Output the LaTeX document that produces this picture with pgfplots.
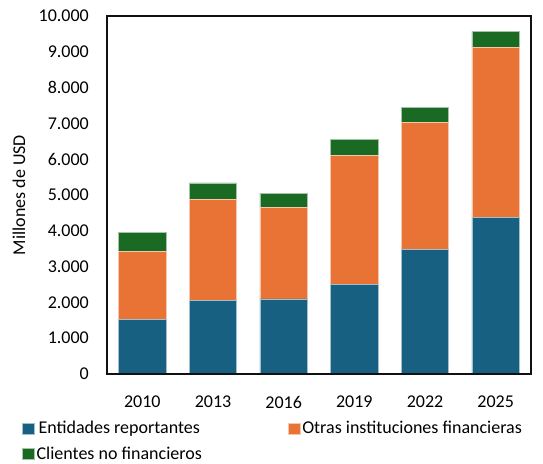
\documentclass[border=0pt]{standalone}
\usepackage{pgfplots}
\pgfplotsset{compat=1.18}
\usepackage{fontspec}
\setmainfont{Carlito}
\definecolor{cblue}{HTML}{186082}
\definecolor{corange}{HTML}{E97334}
\definecolor{cgreen}{HTML}{1B6A24}
\definecolor{cframe}{HTML}{111111}
\begin{document}
\begin{tikzpicture}[font=\fontsize{18}{21}\selectfont]
\begin{axis}[
  name=main,
  scale only axis,
  width=424pt, height=358pt,
  ybar stacked,
  bar width=0.67,
  xmin=-0.5, xmax=5.5,
  ymin=0, ymax=10000,
  xtick={0,1,2,3,4,5},
  xticklabels={2010,2013,2016,2019,2022,2025},
  ytick={0,1000,...,10000},
  scaled y ticks=false,
  yticklabel={\pgfmathprintnumber[fixed,1000 sep={.},assume math mode=true]{\tick}},
  xtick style={draw=none}, ytick style={draw=none},
  axis line style={draw=cframe, line width=1.5pt},
  yticklabel style={inner sep=0pt, xshift=-18pt},
  xticklabel style={inner sep=0pt, yshift=-22pt},
  every axis y label/.style={at={(rel axis cs:0,0.5)}, xshift=-88pt, rotate=90, anchor=center},
  ylabel={Millones de USD},
  legend columns=2,
  legend style={draw=none, fill=none, at={(rel axis cs:0,0)}, anchor=north west,
    xshift=-88pt, yshift=-44pt,
    nodes={inner xsep=2pt, inner ysep=1pt},
    /tikz/every even column/.append style={column sep=84pt},
    row sep=10pt},
  legend image code/.code={\fill[#1] (0pt,-5.5pt) rectangle (12pt,5.5pt);},
]
\addplot[fill=cblue, draw=white!60!cblue, line width=0.4pt] coordinates {(0,1530) (1,2050) (2,2100) (3,2500) (4,3480) (5,4370)};
\addplot[fill=corange, draw=white!60!corange, line width=0.4pt] coordinates {(0,1900) (1,2830) (2,2560) (3,3610) (4,3550) (5,4760)};
\addplot[fill=cgreen, draw=white!60!cgreen, line width=0.4pt] coordinates {(0,530) (1,460) (2,390) (3,450) (4,420) (5,440)};
\legend{Entidades reportantes, Otras instituciones financieras, Clientes no financieros}
\end{axis}
\begin{axis}[
  scale only axis,
  width=424pt, height=358pt,
  xmin=-0.5, xmax=5.5,
  ymin=0, ymax=10000,
  hide axis, clip=false,
]
\addplot[cframe, line width=1.5pt, mark=none, line join=miter] coordinates {(-0.5,0) (5.5,0) (5.5,10000) (-0.5,10000) (-0.5,0) (5.5,0)};
\end{axis}
\pgfresetboundingbox
\path ([shift={(-107pt,-89pt)}]main.south west) rectangle ([shift={(12pt,16pt)}]main.north east);
\end{tikzpicture}
\end{document}
